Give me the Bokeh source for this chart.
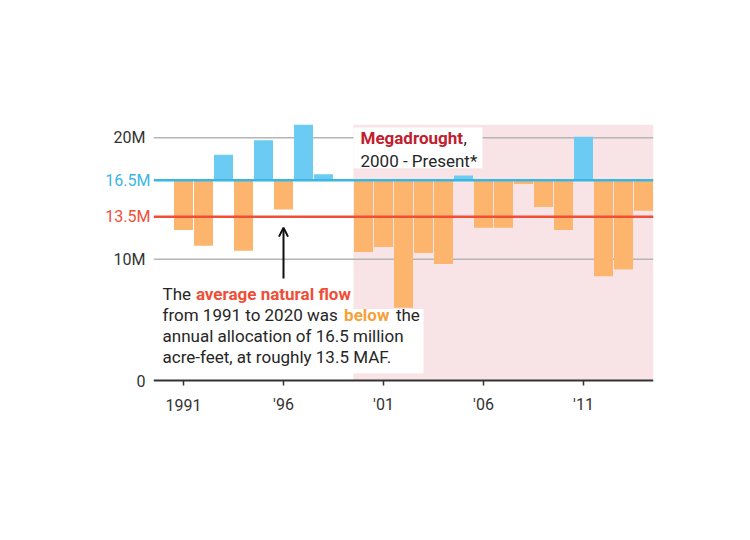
from bokeh.plotting import figure
from bokeh.layouts import row
from bokeh.models import (Range1d, Span, BoxAnnotation, Label,
                          Arrow, OpenHead, ColumnDataSource)
from bokeh.core.properties import value
from bokeh.embed import file_html
from bokeh.resources import INLINE

# ---- data (million acre-feet, natural flow) ----
years = list(range(1991, 2015))
flow = [12.4, 11.1, 18.6, 10.7, 19.8, 14.1, 21.1, 17.0, 16.5,
        10.6, 11.0, 6.0, 10.5, 9.6, 16.9, 12.6, 12.6, 16.2,
        14.3, 12.4, 20.1, 8.6, 9.15, 14.0]
allocation = 16.5
average = 13.5
x_ticks = [1991, 1996, 2001, 2006, 2011]
x_tick_labels = ["1991", "'96", "'01", "'06", "'11"]
y_ticks = [0, 10, 20]
y_tick_labels = ["0", "10M", "20M"]
grid_values = [10, 20]
ref_ticks = [allocation, average]
ref_tick_labels = ["16.5M", "13.5M"]
drought_start = 1999.5

BLUE_BAR = "#6ccbf2"
ORANGE_BAR = "#fdb56e"
BLUE_LINE = "#3bb6e2"
RED_LINE = "#f04e37"
SHADE = "#f8e4e6"
DARK_RED = "#c0202e"
TEXT = "#262626"
AXIS = "#333333"
FONT = "Roboto"

H = 468
TOP = 124
DATA_PX = 256          # pixels between 0 and Y_MAX
EXTRA = 42             # room below zero for the x tick labels
Y_MAX = 21.1
u = Y_MAX / DATA_PX    # data units per pixel
BOTTOM = H - TOP - DATA_PX - EXTRA
y_range = Range1d(-EXTRA * u, Y_MAX)

colors = [BLUE_BAR if v > allocation else ORANGE_BAR for v in flow]
src = ColumnDataSource(dict(x=years, top=flow, color=colors,
                            bottom=[allocation] * len(years)))

# ---------- left strip holding the y tick labels ----------
lp = figure(width=153, height=H, output_backend="svg", toolbar_location=None,
            x_range=Range1d(0, 1), y_range=y_range,
            x_axis_type=None, y_axis_type=None,
            min_border_left=0, min_border_right=0,
            min_border_top=TOP, min_border_bottom=BOTTOM)
lp.outline_line_color = None
lp.text(x=[1] * len(y_ticks), y=y_ticks, text=y_tick_labels, x_offset=-8,
        text_align="right", text_baseline="middle", text_font=value(FONT),
        text_font_size="16px", text_color=AXIS)
lp.text(x=[1] * len(ref_ticks), y=ref_ticks, text=ref_tick_labels, x_offset=-3,
        text_align="right", text_baseline="middle", text_font=value(FONT),
        text_font_size="16px", text_color=[BLUE_LINE, RED_LINE])

# ---------- main chart ----------
p = figure(width=555, height=H, output_backend="svg", toolbar_location=None,
           x_range=Range1d(1989.5, 2014.5), y_range=y_range,
           x_axis_type=None, y_axis_type=None,
           min_border_left=0, min_border_right=55,
           min_border_top=TOP, min_border_bottom=BOTTOM)
p.outline_line_color = None
p.background_fill_color = "white"
p.border_fill_color = "white"

# shading for megadrought
p.add_layout(BoxAnnotation(left=drought_start, right=2014.5, bottom=0, fill_color=SHADE,
                           fill_alpha=1, line_color=None, level="image"))

# horizontal grid lines
for g in grid_values:
    p.add_layout(Span(location=g, dimension="width", line_color="#b5b5b5",
                      line_width=1.5, level="underlay"))

# bars
p.vbar(x="x", top="top", bottom="bottom", width=0.95, fill_color="color",
       line_color=None, source=src)

# reference lines
p.add_layout(Span(location=allocation, dimension="width", line_color=BLUE_LINE, line_width=2.5))
p.add_layout(Span(location=average, dimension="width", line_color=RED_LINE, line_width=2.5))

# x axis (line at zero, ticks, labels)
p.add_layout(Span(location=0, dimension="width", line_color=AXIS, line_width=2))
p.segment(x0=x_ticks, y0=[0] * len(x_ticks), x1=x_ticks, y1=[-5 * u] * len(x_ticks),
          line_color=AXIS, line_width=1.5)
p.text(x=x_ticks, y=[0] * len(x_ticks), text=x_tick_labels, y_offset=24,
       text_align="center", text_baseline="middle", text_font=value(FONT),
       text_font_size="16px", text_color=AXIS)

# white boxes behind text blocks
p.add_layout(BoxAnnotation(left=1989.85, right=2003.0, bottom=0.6, top=5.9,
                           fill_color="white", fill_alpha=1, line_color=None))
p.add_layout(BoxAnnotation(left=drought_start, right=2005.95, bottom=17.5, top=20.85,
                           fill_color="white", fill_alpha=1, line_color=None))

# arrow
p.add_layout(Arrow(x_start=1996, y_start=8.4, x_end=1996, y_end=12.6,
                   line_color="#111111", line_width=2,
                   end=OpenHead(size=9, line_color="#111111", line_width=2)))

def lab(x, y, text, color=TEXT, bold=False, size="17px"):
    p.add_layout(Label(x=x, y=y, text=text, text_color=color, text_font=FONT,
                       text_font_size=size, text_baseline="middle",
                       text_font_style="bold" if bold else "normal"))

# annotation block
lab(1989.95, 7.1, "The")
lab(1991.62, 7.1, "average natural flow", color=RED_LINE, bold=True)
lab(1989.95, 5.4, "from 1991 to 2020 was")
lab(1999.03, 5.4, "below", color="#f7a13a", bold=True)
lab(2001.62, 5.4, "the")
lab(1989.95, 3.65, "annual allocation of 16.5 million")
lab(1989.95, 1.9, "acre-feet, at roughly 13.5 MAF.")

# megadrought label
lab(1999.85, 20.0, "Megadrought", color=DARK_RED, bold=True)
lab(2005.0, 20.0, ",")
lab(1999.85, 18.1, "2000 - Present*")

open("out.html", "w").write(file_html(row(lp, p, spacing=0), INLINE))
